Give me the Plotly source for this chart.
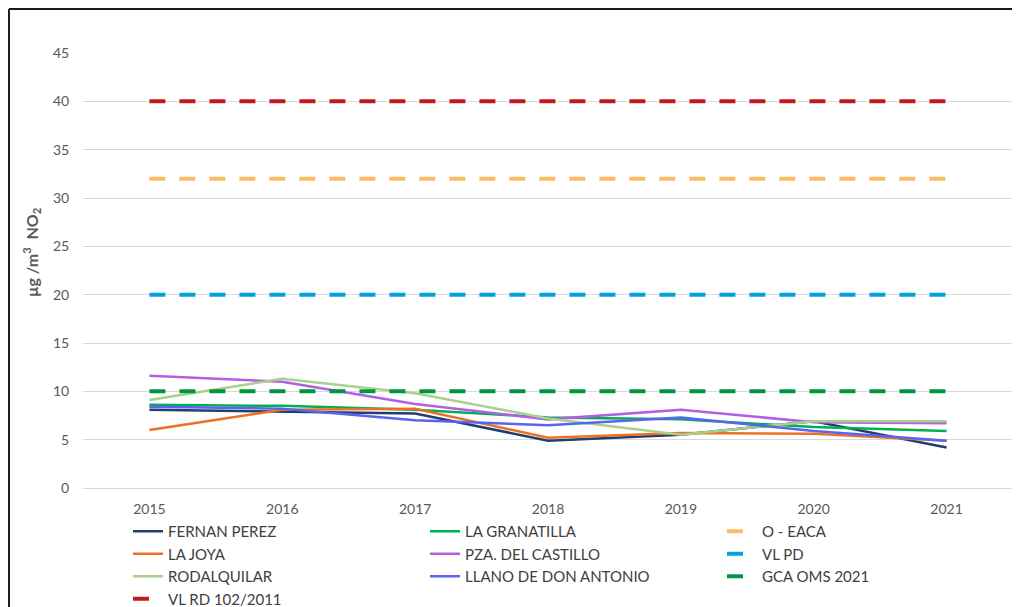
import plotly.graph_objects as go

years = ['2015', '2016', '2017', '2018', '2019', '2020', '2021']

# station series (ug/m3 NO2)
fernan_perez = [8.1, 7.9, 7.7, 4.9, 5.5, 6.9, 4.2]
la_granatilla = [8.6, 8.5, 8.1, 7.3, 7.1, 6.3, 5.9]
la_joya = [6.0, 8.1, 8.2, 5.2, 5.7, 5.6, 4.9]
pza_castillo = [11.6, 11.0, 8.7, 7.1, 8.1, 6.8, 6.7]
rodalquilar = [9.1, 11.3, 9.8, 7.2, 5.5, 6.9, 6.9]
llano_don_antonio = [8.4, 8.2, 7.0, 6.5, 7.3, 5.9, 4.9]

# reference limits
o_eaca = [32] * 7
vl_pd = [20] * 7
gca_oms = [10] * 7
vl_rd = [40] * 7

font = "Lato, Liberation Sans, sans-serif"

series = [
    ('FERNAN PEREZ', fernan_perez, '#1F3F6E', False),
    ('LA GRANATILLA', la_granatilla, '#00B050', False),
    ('O - EACA', o_eaca, '#FDBA66', True),
    ('LA JOYA', la_joya, '#ED7125', False),
    ('PZA. DEL CASTILLO', pza_castillo, '#B35EE3', False),
    ('VL PD', vl_pd, '#00A3E0', True),
    ('RODALQUILAR', rodalquilar, '#A9D18E', False),
    ('LLANO DE DON ANTONIO', llano_don_antonio, '#5A64F0', False),
    ('GCA OMS 2021', gca_oms, '#00963F', True),
    ('VL RD 102/2011', vl_rd, '#C01A1E', True),
]

fig = go.Figure()
for name, vals, color, dashed in series:
    if dashed:
        line = dict(color=color, width=4, dash='16px,14px')
    else:
        line = dict(color=color, width=2.5)
    fig.add_trace(go.Scatter(x=years, y=vals, mode='lines', name=name, line=line))

# page body has an 8px margin, so the figure is laid out shifted by 8px
fig.update_layout(
    width=1020, height=607,
    paper_bgcolor='white', plot_bgcolor='white',
    margin=dict(l=75, r=15, t=45, b=127, autoexpand=False),
    font=dict(family=font, size=14, color='#595959'),
    legend=dict(
        orientation='h', xref='container', yref='container',
        x=120 / 1020, xanchor='left', y=1 - 507 / 607, yanchor='top',
        entrywidth=252, entrywidthmode='pixels',
        font=dict(family=font, size=15, color='#404040'),
        tracegroupgap=0, itemwidth=30,
    ),
    shapes=[
        dict(type='line', xref='paper', yref='paper', x0=-0.0796, x1=-0.0796,
             y0=-0.35, y1=1.1011, line=dict(color='#1a1a1a', width=2)),
        dict(type='line', xref='paper', yref='paper', x0=-0.0796, x1=1.02,
             y0=1.1011, y1=1.1011, line=dict(color='#1a1a1a', width=2)),
    ],
    annotations=[
        dict(text='<b>µg /m<sup>3</sup>  NO<sub>2</sub></b>', textangle=-90,
             xref='paper', yref='paper', x=-0.0559, y=0.54,
             xanchor='center', yanchor='middle', showarrow=False,
             font=dict(family=font, size=16, color='#595959')),
    ],
)

fig.update_xaxes(
    type='category', range=[-0.5, 6.5], showgrid=False, showline=False,
    ticks='outside', ticklen=8, tickcolor='white', automargin=False,
    tickfont=dict(family=font, size=14, color='#595959'),
)
fig.update_yaxes(
    range=[0, 45], dtick=5, showgrid=True, gridcolor='#D9D9D9', gridwidth=1,
    zeroline=True, zerolinecolor='#D9D9D9', zerolinewidth=1,
    ticks='outside', ticklen=10, tickcolor='white', automargin=False,
    tickfont=dict(family=font, size=14, color='#595959'),
)

fig.write_html("out.html")
